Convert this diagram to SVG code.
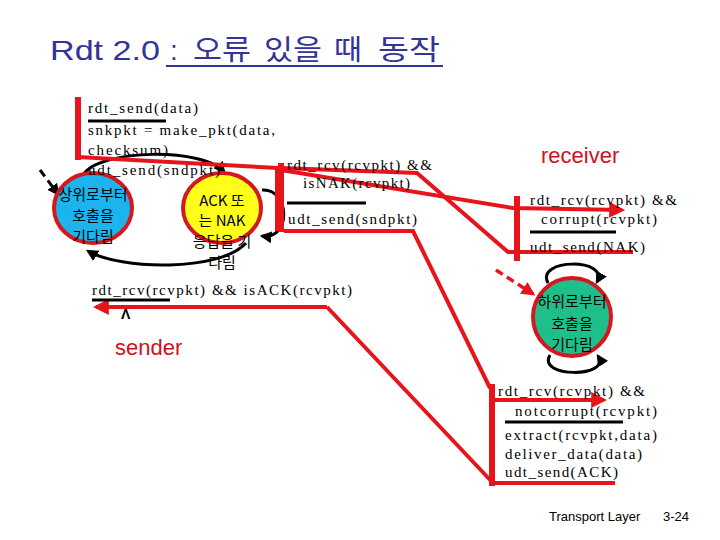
<svg xmlns="http://www.w3.org/2000/svg" width="720" height="540" viewBox="0 0 720 540">
<style>
.mono{font-family:"Liberation Serif","Noto Sans CJK KR",serif;font-size:15px;fill:#000}
.kr{font-family:"Noto Sans CJK KR",sans-serif;font-size:15px;fill:#000;text-anchor:middle}
.red{fill:none;stroke:#e8141c;stroke-width:4;stroke-linejoin:miter}
.bar{fill:none;stroke:#e8141c;stroke-width:6}
.ul{stroke:#000;stroke-width:3}
.arc{fill:none;stroke:#000;stroke-width:3;marker-end:url(#ah)}
.lab{font-family:"Liberation Sans","Lato",sans-serif;font-size:22px;fill:#d0101c}
.tt{font-family:"Liberation Sans","Noto Sans CJK KR",sans-serif;font-size:28px;fill:#333399}
</style>
<defs>
<marker id="ah" viewBox="0 0 10 10" refX="8" refY="5" markerWidth="4" markerHeight="4" orient="auto"><path d="M0,0 L10,5 L0,10 z" fill="#000"/></marker>
<marker id="rh" viewBox="0 0 10 10" refX="8" refY="5" markerWidth="4" markerHeight="4" orient="auto"><path d="M0,0 L10,5 L0,10 z" fill="#e8141c"/></marker>
</defs>
<rect width="720" height="540" fill="#fff"/>
<g id="title">
<text class="tt" x="50" y="60" textLength="110" lengthAdjust="spacingAndGlyphs">Rdt 2.0</text>
<text class="tt" x="170" y="60">:</text>
<text class="tt" x="193" y="60" textLength="58" lengthAdjust="spacingAndGlyphs">오류</text>
<text class="tt" x="264" y="60" textLength="58" lengthAdjust="spacingAndGlyphs">있을</text>
<text class="tt" x="334" y="60" textLength="28" lengthAdjust="spacingAndGlyphs">때</text>
<text class="tt" x="378" y="60" textLength="62" lengthAdjust="spacingAndGlyphs">동작</text>
<line x1="166" y1="66" x2="443" y2="66" stroke="#333399" stroke-width="2"/>
</g>
<g id="connectors">
<path class="arc" d="M83,175 C100,148 205,148 224,172"/>
<path class="arc" d="M246,243 C220,272 120,270 88,251"/>
<path class="arc" d="M262,190 C290,188 292,240 262,236"/>
<path fill="none" stroke="#000" stroke-width="3" stroke-dasharray="8,5" marker-end="url(#ah)" d="M40,170 L58,194"/>
<path class="arc" d="M548,283 C535,258 610,258 597,282"/>
<path class="arc" d="M550,355 C536,378 612,378 598,356"/>
<path fill="none" stroke="#e8141c" stroke-width="3.5" stroke-dasharray="8,5" marker-end="url(#rh)" d="M496,270 L533,294"/>
<path class="red" d="M78,157 L278,168"/>
<path class="bar" d="M78,97 V160"/>
<path class="bar" d="M278,166 V231"/>
<path class="bar" d="M281,163 V232"/>
<path class="red" d="M281,168 L417,173 L508,252 L633,252"/>
<path class="red" d="M281,170 L513,208 L622,210" marker-end="url(#rh)"/>
<path class="bar" d="M517,196 V261"/>
<path class="red" d="M284,231 L413,231 L490,388"/>
<path class="bar" d="M492,384 V486"/>
<path class="red" d="M492,483 L615,483"/>
<path class="red" d="M492,400 L604,400" marker-end="url(#rh)"/>
<path class="red" d="M327,307 L96,307" marker-end="url(#rh)"/>
<path class="red" d="M327,307 L493,483"/>
</g>
<g id="sender-wait">
<ellipse cx="93" cy="208" rx="39" ry="35" fill="#1cb4ec" stroke="#d41820" stroke-width="4"/>
<text class="kr" x="93" y="200">상위로부터</text>
<text class="kr" x="93" y="221">호출을</text>
<text class="kr" x="93" y="242">기다림</text>
</g>
<g id="sender-ack">
<ellipse cx="222" cy="208" rx="39" ry="35" fill="#ffff1a" stroke="#d41820" stroke-width="4"/>
<text class="kr" x="222" y="206">ACK 또</text>
<text class="kr" x="222" y="226">는 NAK</text>
<text class="kr" x="222" y="247">응답을 기</text>
<text class="kr" x="222" y="268">다림</text>
</g>
<g id="receiver-wait">
<ellipse cx="572" cy="317" rx="39" ry="39" fill="#1fbf8c" stroke="#d41820" stroke-width="4"/>
<text class="kr" x="572" y="307">하위로부터</text>
<text class="kr" x="572" y="329">호출을</text>
<text class="kr" x="572" y="350">기다림</text>
</g>
<g id="sender-labels">
<text class="mono" x="88" y="113" textLength="110" lengthAdjust="spacing">rdt_send(data)</text>
<line class="ul" x1="88" y1="121" x2="166" y2="121"/>
<text class="mono" x="88" y="135" textLength="187" lengthAdjust="spacing">snkpkt = make_pkt(data,</text>
<text class="mono" x="88" y="155" textLength="80" lengthAdjust="spacing">checksum)</text>
<text class="mono" x="88" y="175" textLength="132" lengthAdjust="spacing">udt_send(sndpkt)</text>
<text class="mono" x="287" y="170" textLength="145" lengthAdjust="spacing">rdt_rcv(rcvpkt) &amp;&amp;</text>
<text class="mono" x="303" y="188" textLength="107" lengthAdjust="spacing">isNAK(rcvpkt)</text>
<line class="ul" x1="287" y1="203" x2="366" y2="203"/>
<text class="mono" x="288" y="224" textLength="129" lengthAdjust="spacing">udt_send(sndpkt)</text>
<text class="mono" x="92" y="295" textLength="260" lengthAdjust="spacing">rdt_rcv(rcvpkt) &amp;&amp; isACK(rcvpkt)</text>
<line class="ul" x1="92" y1="300" x2="170" y2="300"/>
<text x="121" y="319" font-family="Liberation Sans, sans-serif" font-size="14" font-weight="bold">Λ</text>
<text class="lab" x="115" y="355">sender</text>
</g>
<g id="receiver-labels">
<text class="lab" x="541" y="163">receiver</text>
<text class="mono" x="530" y="205" textLength="147" lengthAdjust="spacing">rdt_rcv(rcvpkt) &amp;&amp;</text>
<text class="mono" x="541" y="224" textLength="116" lengthAdjust="spacing">corrupt(rcvpkt)</text>
<line class="ul" x1="530" y1="232" x2="616" y2="232"/>
<text class="mono" x="530" y="252" textLength="115" lengthAdjust="spacing">udt_send(NAK)</text>
<text class="mono" x="498" y="396" textLength="147" lengthAdjust="spacing">rdt_rcv(rcvpkt) &amp;&amp;</text>
<text class="mono" x="515" y="416" textLength="142" lengthAdjust="spacing">notcorrupt(rcvpkt)</text>
<line class="ul" x1="505" y1="422" x2="623" y2="422"/>
<text class="mono" x="505" y="440" textLength="152" lengthAdjust="spacing">extract(rcvpkt,data)</text>
<text class="mono" x="505" y="459" textLength="137" lengthAdjust="spacing">deliver_data(data)</text>
<text class="mono" x="505" y="477" textLength="113" lengthAdjust="spacing">udt_send(ACK)</text>
</g>
<g id="footer">
<text x="549" y="521" font-family="Liberation Sans, sans-serif" font-size="13">Transport Layer</text>
<text x="663" y="521" font-family="Liberation Sans, sans-serif" font-size="13">3-24</text>
</g>
</svg>
